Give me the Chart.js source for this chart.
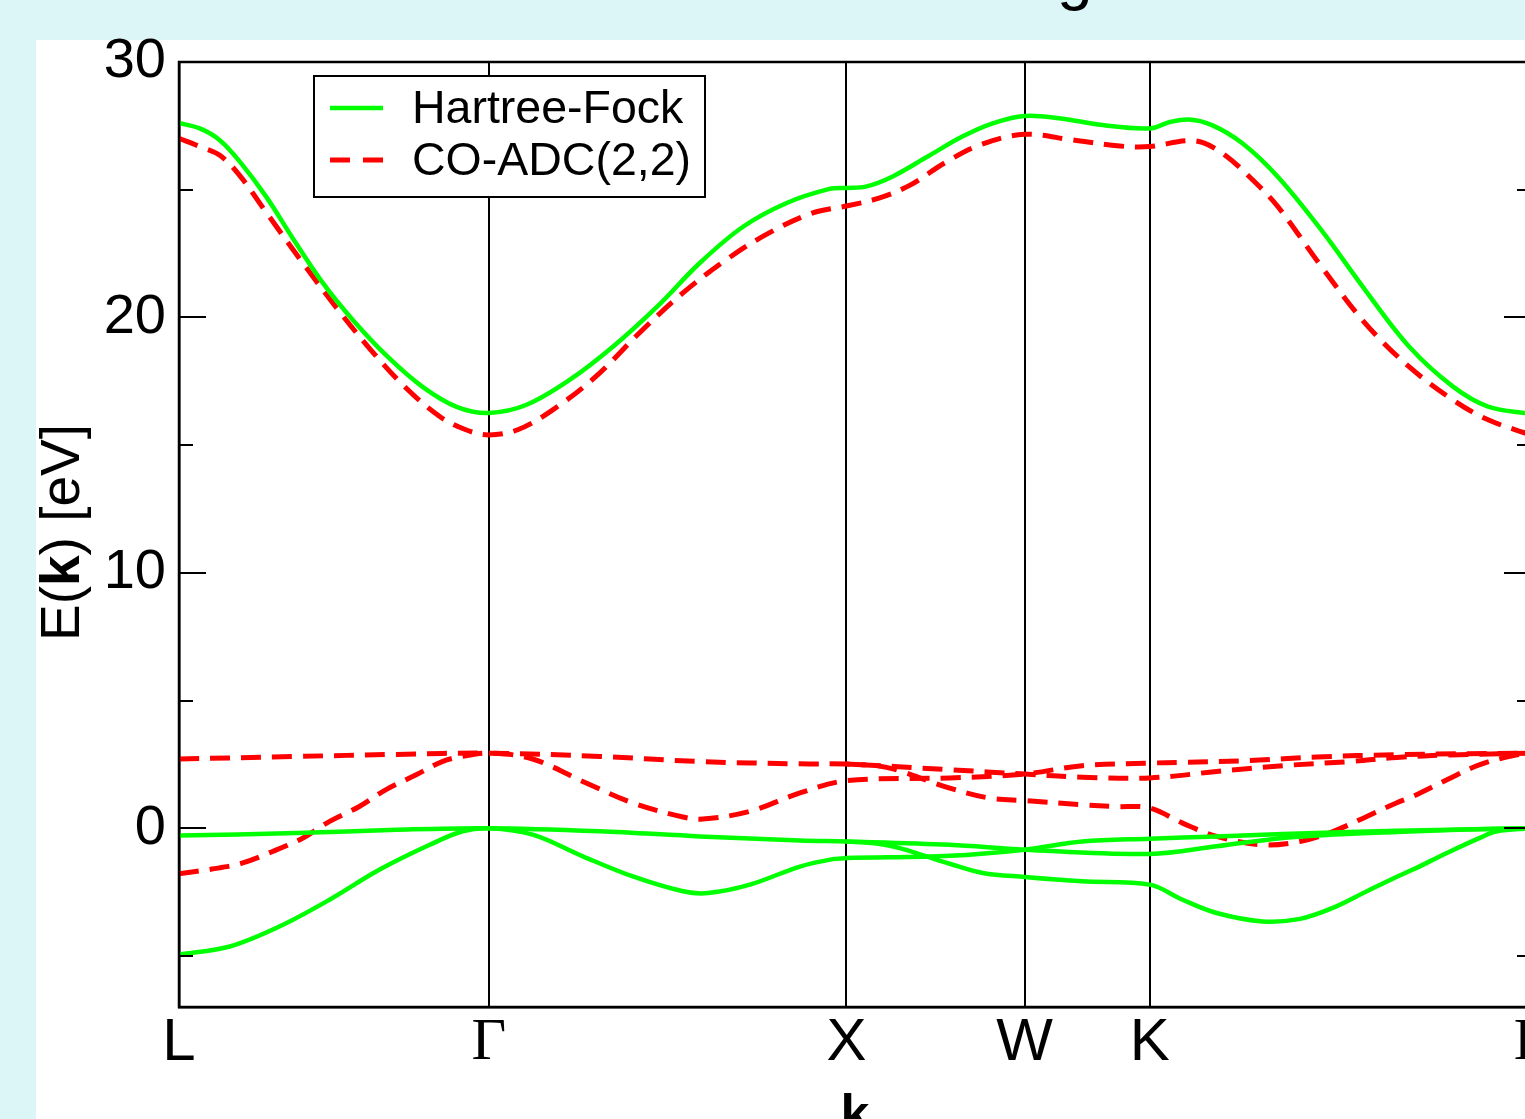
<!DOCTYPE html>
<html>
<head>
<meta charset="utf-8">
<script src="https://cdn.jsdelivr.net/npm/chart.js@4.4.1/dist/chart.umd.min.js"></script>
<style>
html,body{margin:0;padding:0;overflow:hidden;width:1525px;height:1119px;background:#dcf6f7;}
#panel{position:absolute;left:36px;top:40px;width:1600px;height:1200px;background:#ffffff;}
#ttl{position:absolute;left:1057px;top:-56px;font-family:"Liberation Sans",Arial,sans-serif;font-size:64px;line-height:64px;color:#000;white-space:nowrap;}
#c{position:absolute;left:0;top:0;}
</style>
</head>
<body>
<div id="panel"></div>
<div id="ttl">g</div>
<canvas id="c" width="1580" height="1119"></canvas>
<script>
// ---- high-symmetry points (k-path distance, units of 2π/a) ----
const kPoints = [0, 0.866, 1.866, 2.364, 2.714, 3.780];
const kLabels = ['L', 'Γ', 'X', 'W', 'K', 'Γ'];
const yMajorTicks = [0, 10, 20, 30];
const yMinorTicks = [-5, 5, 15, 25];

// ---- Hartree-Fock bands ----
const hfCondK = [0,0.058,0.114,0.170,0.245,0.318,0.402,0.486,0.584,0.681,0.776,0.866,0.972,1.092,1.213,1.336,1.456,1.576,1.699,1.819,1.866,1.920,1.994,2.092,2.190,2.275,2.364,2.460,2.582,2.714,2.773,2.824,2.888,2.973,3.072,3.194,3.316,3.439,3.562,3.660,3.780];
const hfCondE = [27.61,27.40,26.94,26.10,24.70,23.10,21.35,19.90,18.45,17.28,16.50,16.26,16.58,17.55,18.85,20.41,22.13,23.54,24.48,25.03,25.07,25.12,25.51,26.29,27.08,27.60,27.89,27.80,27.53,27.40,27.66,27.75,27.53,26.82,25.51,23.42,21.08,18.86,17.29,16.51,16.22];

const hfV1K = [0,0.328,0.608,0.866,1.176,1.456,1.736,1.866,2.155,2.364,2.714,2.901,3.086,3.226,3.405,3.553,3.685,3.780];
const hfV1E = [-0.29,-0.19,-0.06,0,-0.12,-0.32,-0.48,-0.52,-0.65,-0.84,-1.01,-0.71,-0.38,-0.25,-0.15,-0.07,-0.02,0];

const hfV2K = [0,0.142,0.282,0.421,0.561,0.701,0.793,0.866,0.989,1.129,1.269,1.409,1.479,1.596,1.736,1.828,1.866,2.155,2.364,2.525,2.714,2.901,3.086,3.405,3.780];
const hfV2E = [-4.95,-4.63,-3.84,-2.80,-1.62,-0.65,-0.12,0,-0.25,-1.10,-1.89,-2.47,-2.54,-2.21,-1.50,-1.21,-1.17,-1.08,-0.84,-0.52,-0.41,-0.32,-0.23,-0.10,0];

const hfV3K = [1.866,1.950,2.015,2.085,2.155,2.247,2.364,2.525,2.714,2.806,2.901,3.030,3.134,3.226,3.321,3.405,3.450,3.545,3.637,3.685,3.780];
const hfV3E = [-0.52,-0.60,-0.78,-1.08,-1.39,-1.75,-1.91,-2.08,-2.21,-2.80,-3.32,-3.65,-3.55,-3.12,-2.47,-1.90,-1.62,-0.97,-0.38,-0.12,0];

// ---- CO-ADC(2,2) bands ----
const adcCondK = [0,0.058,0.114,0.170,0.245,0.340,0.438,0.536,0.631,0.729,0.802,0.866,0.947,1.045,1.165,1.287,1.409,1.529,1.650,1.772,1.866,1.957,2.044,2.141,2.239,2.364,2.496,2.630,2.714,2.815,2.863,2.924,2.997,3.072,3.194,3.316,3.439,3.562,3.660,3.780];
const adcCondE = [27.01,26.69,26.35,25.55,24.09,22.25,20.42,18.73,17.29,16.12,15.60,15.40,15.60,16.38,17.68,19.39,20.96,22.25,23.31,24.09,24.36,24.67,25.18,26.05,26.75,27.17,26.95,26.71,26.69,26.92,26.84,26.36,25.45,24.34,21.99,19.78,18.07,16.77,15.99,15.40];

const adcV1K = [0,0.328,0.608,0.866,1.176,1.456,1.736,1.866,2.155,2.364,2.525,2.714,2.901,3.086,3.273,3.405,3.553,3.780];
const adcV1E = [2.71,2.81,2.89,2.94,2.81,2.61,2.52,2.51,2.29,2.12,2.00,1.97,2.22,2.45,2.61,2.77,2.87,2.94];

const adcV2K = [0,0.092,0.176,0.260,0.344,0.420,0.503,0.579,0.663,0.736,0.792,0.866,0.989,1.129,1.269,1.409,1.465,1.596,1.736,1.866,2.155,2.364,2.525,2.714,2.806,2.994,3.181,3.405,3.780];
const adcV2E = [-1.78,-1.60,-1.37,-0.92,-0.40,0.26,0.84,1.51,2.09,2.61,2.81,2.94,2.71,1.83,0.99,0.44,0.36,0.66,1.38,1.86,1.97,2.12,2.45,2.55,2.58,2.65,2.79,2.88,2.94];

const adcV3K = [1.866,1.950,2.015,2.085,2.155,2.266,2.364,2.525,2.620,2.714,2.806,2.901,3.030,3.134,3.226,3.321,3.405,3.450,3.545,3.637,3.730,3.780];
const adcV3E = [2.51,2.45,2.25,1.90,1.57,1.18,1.08,0.92,0.85,0.79,0.20,-0.32,-0.65,-0.52,-0.13,0.46,1.00,1.25,1.90,2.49,2.84,2.94];

const methods = {
  hf:  { label: 'Hartree-Fock', color: '#00ff00', width: 4.5, dash: [] },
  adc: { label: 'CO-ADC(2,2)',  color: '#ff0000', width: 5,   dash: [20, 11] }
};

const bands = [
  ['hf', hfCondK, hfCondE], ['hf', hfV1K, hfV1E], ['hf', hfV2K, hfV2E], ['hf', hfV3K, hfV3E],
  ['adc', adcCondK, adcCondE], ['adc', adcV1K, adcV1E], ['adc', adcV2K, adcV2E], ['adc', adcV3K, adcV3E]
];

const SANS = '"Liberation Sans", Arial, Helvetica, sans-serif';
const SERIF = '"Liberation Serif", "Times New Roman", serif';

const datasets = bands.map(([m, ks, es]) => ({
  label: methods[m].label,
  method: m,
  data: ks.map((k, i) => ({ x: k, y: es[i] })),
  borderColor: methods[m].color,
  borderWidth: methods[m].width,
  borderDash: methods[m].dash,
  borderCapStyle: 'butt',
  borderJoinStyle: 'round',
  pointRadius: 0,
  fill: false,
  tension: 0.35
}));

const decorPlugin = {
  id: 'decor',
  afterDraw(chart) {
    const { ctx, chartArea: a, scales: { y } } = chart;
    ctx.save();
    // frame
    ctx.strokeStyle = '#000';
    ctx.lineWidth = 2.5;
    ctx.strokeRect(a.left, a.top, a.right - a.left, a.bottom - a.top);
    // inward ticks on left and right
    ctx.lineWidth = 2;
    const tick = (v, len) => {
      const py = Math.round(y.getPixelForValue(v));
      ctx.beginPath();
      ctx.moveTo(a.left, py); ctx.lineTo(a.left + len, py);
      ctx.moveTo(a.right - len, py); ctx.lineTo(a.right, py);
      ctx.stroke();
    };
    yMajorTicks.forEach(v => tick(v, 27));
    yMinorTicks.forEach(v => tick(v, 14));

    // legend
    const bx = a.left + 135, by = a.top + 14, bw = 391, bh = 121;
    ctx.fillStyle = '#fff';
    ctx.fillRect(bx, by, bw, bh);
    ctx.lineWidth = 2;
    ctx.strokeStyle = '#000';
    ctx.strokeRect(bx, by, bw, bh);
    const seen = [];
    chart.data.datasets.forEach(ds => {
      if (seen.indexOf(ds.method) < 0) seen.push(ds.method);
    });
    seen.forEach((m, i) => {
      const st = methods[m];
      const ly = by + 32 + i * 52;
      ctx.beginPath();
      ctx.strokeStyle = st.color;
      ctx.lineWidth = st.width;
      ctx.setLineDash(st.dash.length ? [20, 13] : []);
      ctx.moveTo(bx + 16, ly); ctx.lineTo(bx + 69, ly);
      ctx.stroke();
      ctx.setLineDash([]);
      ctx.fillStyle = '#000';
      ctx.font = '46.5px ' + SANS;
      ctx.textBaseline = 'alphabetic';
      ctx.textAlign = 'left';
      ctx.fillText(st.label, bx + 98, ly + 15);
    });

    // y-axis title: E(k) [eV] with bold k
    ctx.save();
    ctx.translate(78.5, 532.5);
    ctx.rotate(-Math.PI / 2);
    const parts = [['E(', '55px ' + SANS], ['k', 'bold 55px ' + SANS], [') [eV]', '55px ' + SANS]];
    let total = 0;
    parts.forEach(p => { ctx.font = p[1]; total += ctx.measureText(p[0]).width; });
    let px = -total / 2;
    ctx.fillStyle = '#000';
    ctx.textBaseline = 'alphabetic';
    ctx.textAlign = 'left';
    parts.forEach(p => { ctx.font = p[1]; ctx.fillText(p[0], px, 0); px += ctx.measureText(p[0]).width; });
    ctx.restore();

    // x-axis title: bold k
    ctx.fillStyle = '#000';
    ctx.font = 'bold 52px ' + SANS;
    ctx.textAlign = 'center';
    ctx.textBaseline = 'alphabetic';
    ctx.fillText('k', (a.left + a.right) / 2, 1131);
    ctx.restore();
  }
};

new Chart(document.getElementById('c'), {
  type: 'line',
  data: { datasets },
  options: {
    responsive: false,
    animation: false,
    devicePixelRatio: 1,
    layout: { padding: { top: 62, right: 49, bottom: 0, left: 0 } },
    plugins: { legend: { display: false }, tooltip: { enabled: false }, title: { display: false } },
    scales: {
      x: {
        type: 'linear',
        min: kPoints[0],
        max: kPoints[kPoints.length - 1],
        afterFit: s => { s.height = 112; },
        afterBuildTicks: s => { s.ticks = kPoints.map(v => ({ value: v })); },
        grid: { display: true, drawOnChartArea: true, drawTicks: false, color: '#000', lineWidth: 2 },
        border: { display: true, color: '#000', width: 2.5 },
        ticks: {
          autoSkip: false,
          maxRotation: 0,
          padding: 0,
          color: '#000',
          callback: (v, i) => kLabels[i],
          font: ctx => ({ family: kLabels[ctx.index] === 'Γ' ? SERIF : SANS, size: 60 })
        }
      },
      y: {
        type: 'linear',
        min: -7,
        max: 30,
        afterFit: s => { s.width = 179; },
        afterBuildTicks: s => { s.ticks = yMajorTicks.map(v => ({ value: v })); },
        grid: { display: false, drawTicks: false },
        border: { display: true, color: '#000', width: 2.5 },
        ticks: {
          padding: 13,
          color: '#000',
          callback: v => String(v),
          font: { family: SANS, size: 56 }
        }
      }
    }
  },
  plugins: [decorPlugin]
});
</script>
</body>
</html>
